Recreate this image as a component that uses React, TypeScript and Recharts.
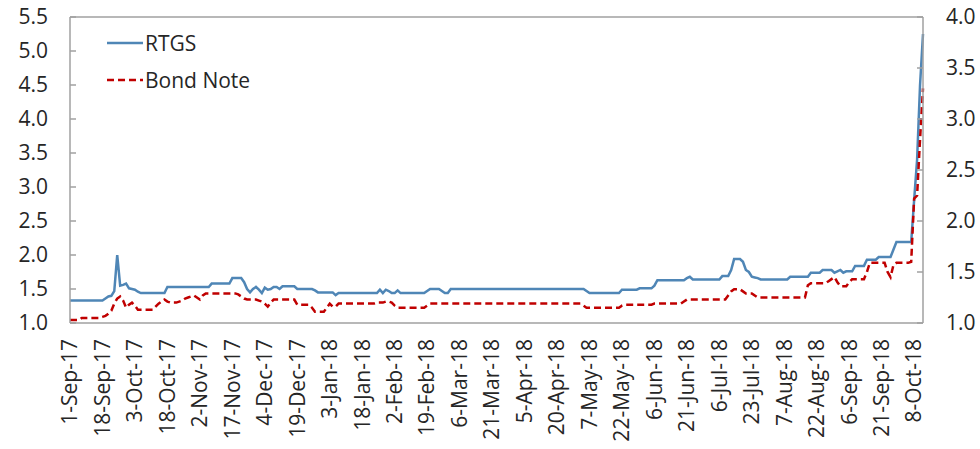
import { LineChart, Line, XAxis, YAxis, Legend, ReferenceLine } from 'recharts'

// weekday series, 1-Sep-17 onwards
const MONTHS = ['Jan', 'Feb', 'Mar', 'Apr', 'May', 'Jun', 'Jul', 'Aug', 'Sep', 'Oct', 'Nov', 'Dec']
const START = Date.UTC(2017, 8, 1)

// RTGS (left axis), one row per 11 weekdays
const rtgs = [
  1.33, 1.33, 1.33, 1.33, 1.33, 1.33, 1.33, 1.33, 1.33, 1.33, 1.33,
  1.33, 1.36, 1.39, 1.4, 1.47, 2.0, 1.55, 1.56, 1.58, 1.51, 1.5,
  1.49, 1.46, 1.44, 1.44, 1.44, 1.44, 1.44, 1.44, 1.44, 1.44, 1.44,
  1.53, 1.53, 1.53, 1.53, 1.53, 1.53, 1.53, 1.53, 1.53, 1.53, 1.53,
  1.53, 1.53, 1.53, 1.53, 1.58, 1.58, 1.58, 1.58, 1.58, 1.58, 1.58,
  1.66, 1.66, 1.66, 1.66, 1.6, 1.5, 1.45, 1.5, 1.53, 1.49, 1.44,
  1.52, 1.49, 1.5, 1.53, 1.53, 1.5, 1.54, 1.54, 1.54, 1.54, 1.54,
  1.5, 1.5, 1.5, 1.5, 1.5, 1.5, 1.48, 1.45, 1.45, 1.45, 1.45,
  1.45, 1.45, 1.41, 1.44, 1.44, 1.44, 1.44, 1.44, 1.44, 1.44, 1.44,
  1.44, 1.44, 1.44, 1.44, 1.44, 1.44, 1.49, 1.44, 1.49, 1.47, 1.44,
  1.44, 1.48, 1.44, 1.44, 1.44, 1.44, 1.44, 1.44, 1.44, 1.44, 1.44,
  1.47, 1.5, 1.5, 1.5, 1.5, 1.47, 1.44, 1.44, 1.5, 1.5, 1.5,
  1.5, 1.5, 1.5, 1.5, 1.5, 1.5, 1.5, 1.5, 1.5, 1.5, 1.5,
  1.5, 1.5, 1.5, 1.5, 1.5, 1.5, 1.5, 1.5, 1.5, 1.5, 1.5,
  1.5, 1.5, 1.5, 1.5, 1.5, 1.5, 1.5, 1.5, 1.5, 1.5, 1.5,
  1.5, 1.5, 1.5, 1.5, 1.5, 1.5, 1.5, 1.5, 1.5, 1.5, 1.47,
  1.44, 1.44, 1.44, 1.44, 1.44, 1.44, 1.44, 1.44, 1.44, 1.44, 1.44,
  1.49, 1.49, 1.49, 1.49, 1.49, 1.49, 1.51, 1.51, 1.51, 1.51, 1.51,
  1.55, 1.63, 1.63, 1.63, 1.63, 1.63, 1.63, 1.63, 1.63, 1.63, 1.63,
  1.66, 1.68, 1.64, 1.64, 1.64, 1.64, 1.64, 1.64, 1.64, 1.64, 1.64,
  1.64, 1.69, 1.69, 1.69, 1.78, 1.94, 1.94, 1.94, 1.9, 1.78, 1.75,
  1.68, 1.67, 1.66, 1.64, 1.64, 1.64, 1.64, 1.64, 1.64, 1.64, 1.64,
  1.64, 1.64, 1.68, 1.68, 1.68, 1.68, 1.68, 1.68, 1.68, 1.74, 1.74,
  1.74, 1.74, 1.78, 1.78, 1.78, 1.78, 1.74, 1.76, 1.78, 1.74, 1.76,
  1.76, 1.76, 1.84, 1.84, 1.84, 1.84, 1.93, 1.93, 1.93, 1.93, 1.97,
  1.97, 1.97, 1.97, 1.97, 2.08, 2.19, 2.19, 2.19, 2.19, 2.19, 2.19,
  2.81, 3.4, 4.5, 5.25,
]

// Bond Note (right axis)
const bondNote = [
  1.03, 1.03, 1.03, 1.03, 1.05, 1.05, 1.05, 1.05, 1.05, 1.05, 1.05,
  1.06, 1.07, 1.09, 1.12, 1.19, 1.24, 1.26, 1.22, 1.15, 1.18, 1.2,
  1.17, 1.13, 1.13, 1.13, 1.13, 1.13, 1.13, 1.16, 1.19, 1.21, 1.23,
  1.21, 1.2, 1.2, 1.2, 1.21, 1.22, 1.24, 1.25, 1.26, 1.27, 1.25,
  1.23, 1.27, 1.29, 1.29, 1.29, 1.29, 1.29, 1.29, 1.29, 1.29, 1.29,
  1.29, 1.29, 1.28, 1.26, 1.24, 1.23, 1.23, 1.23, 1.23, 1.22, 1.21,
  1.19, 1.16, 1.2, 1.23, 1.23, 1.23, 1.23, 1.23, 1.23, 1.23, 1.23,
  1.18, 1.18, 1.18, 1.18, 1.18, 1.15, 1.11, 1.11, 1.11, 1.11, 1.15,
  1.19, 1.16, 1.16, 1.19, 1.19, 1.19, 1.19, 1.19, 1.19, 1.19, 1.19,
  1.19, 1.19, 1.19, 1.19, 1.19, 1.2, 1.2, 1.2, 1.21, 1.21, 1.2,
  1.17, 1.15, 1.15, 1.15, 1.15, 1.15, 1.15, 1.15, 1.15, 1.15, 1.15,
  1.17, 1.19, 1.19, 1.19, 1.19, 1.19, 1.19, 1.19, 1.19, 1.19, 1.19,
  1.19, 1.19, 1.19, 1.19, 1.19, 1.19, 1.19, 1.19, 1.19, 1.19, 1.19,
  1.19, 1.19, 1.19, 1.19, 1.19, 1.19, 1.19, 1.19, 1.19, 1.19, 1.19,
  1.19, 1.19, 1.19, 1.19, 1.19, 1.19, 1.19, 1.19, 1.19, 1.19, 1.19,
  1.19, 1.19, 1.19, 1.19, 1.19, 1.19, 1.19, 1.19, 1.19, 1.17, 1.15,
  1.15, 1.15, 1.15, 1.15, 1.15, 1.15, 1.15, 1.15, 1.15, 1.15, 1.15,
  1.17, 1.18, 1.18, 1.18, 1.18, 1.18, 1.18, 1.18, 1.18, 1.18, 1.18,
  1.19, 1.19, 1.19, 1.19, 1.19, 1.19, 1.19, 1.19, 1.19, 1.19, 1.21,
  1.23, 1.23, 1.23, 1.23, 1.23, 1.23, 1.23, 1.23, 1.23, 1.23, 1.23,
  1.23, 1.23, 1.23, 1.27, 1.31, 1.33, 1.33, 1.33, 1.31, 1.29, 1.29,
  1.29, 1.27, 1.25, 1.25, 1.25, 1.25, 1.25, 1.25, 1.25, 1.25, 1.25,
  1.25, 1.25, 1.25, 1.25, 1.25, 1.25, 1.25, 1.25, 1.37, 1.39, 1.39,
  1.39, 1.39, 1.39, 1.39, 1.41, 1.43, 1.45, 1.4, 1.36, 1.36, 1.36,
  1.4, 1.43, 1.43, 1.43, 1.43, 1.43, 1.5, 1.59, 1.59, 1.59, 1.59,
  1.59, 1.59, 1.5, 1.45, 1.57, 1.59, 1.59, 1.59, 1.59, 1.59, 1.6,
  2.22, 2.25, 2.8, 3.3,
]

const leftTicks = [1.0, 1.5, 2.0, 2.5, 3.0, 3.5, 4.0, 4.5, 5.0, 5.5]
const rightTicks = [1.0, 1.5, 2.0, 2.5, 3.0, 3.5, 4.0]

function dateLabel(i: number) {
  // i-th weekday from the start
  const week = Math.floor((i + 4) / 5)
  const dow = (i + 4) % 5 // 0 = Mon
  const d = new Date(START + ((week - 1) * 7 + 3 + dow) * 86400000)
  return `${d.getUTCDate()}-${MONTHS[d.getUTCMonth()]}-${String(d.getUTCFullYear()).slice(2)}`
}

const data = rtgs.map((v, i) => ({ date: dateLabel(i), rtgs: v, bond: bondNote[i] }))

const FONT = '"Open Sans", "Noto Sans", sans-serif'
const FS = 21
const TEXT = '#262626'
const FRAME = '#a0a0a0'
const BLUE = '#4f86b6'
const RED = '#c00000'
const DASH = '7 4'

const LeftTick = ({ x, y, payload }: any) => (
  <g>
    <line x1={70} x2={76} y1={y} y2={y} stroke={FRAME} strokeWidth={1.5} />
    <text x={x} y={y} dy="0.35em" textAnchor="end" fill={TEXT} fontSize={FS} fontFamily={FONT}>
      {payload.value.toFixed(1)}
    </text>
  </g>
)

const RightTick = ({ x, y, payload }: any) => (
  <g>
    <line x1={917} x2={923} y1={y} y2={y} stroke={FRAME} strokeWidth={1.5} />
    <text x={x} y={y} dy="0.35em" textAnchor="start" fill={TEXT} fontSize={FS} fontFamily={FONT}>
      {payload.value.toFixed(1)}
    </text>
  </g>
)

const DateTick = ({ x, y, payload }: any) => (
  <text
    x={x}
    y={y}
    dy="0.35em"
    transform={`rotate(-90 ${x} ${y})`}
    textAnchor="end"
    fill={TEXT}
    fontSize={FS}
    fontFamily={FONT}
  >
    {payload.value}
  </text>
)

const LegendBox = () => (
  <div style={{ fontFamily: FONT, fontSize: FS, color: TEXT }}>
    {[
      { name: 'RTGS', color: BLUE, dash: undefined },
      { name: 'Bond Note', color: RED, dash: DASH },
    ].map((item) => (
      <div key={item.name} style={{ display: 'flex', alignItems: 'center', height: 37 }}>
        <svg width={36} height={10} style={{ marginRight: 2 }}>
          <line x1={0} x2={36} y1={5} y2={5} stroke={item.color} strokeWidth={2.5} strokeDasharray={item.dash} />
        </svg>
        <span>{item.name}</span>
      </div>
    ))}
  </div>
)

export default function App() {
  return (
    <div style={{ position: 'absolute', left: 0, top: 0, background: '#fff' }}>
      <LineChart width={980} height={449} data={data} margin={{ top: 17, right: 0, left: 0, bottom: 0 }}>
        <XAxis
          dataKey="date"
          interval={10}
          height={126}
          tickSize={0}
          tickMargin={16}
          tickLine={false}
          axisLine={{ stroke: FRAME, strokeWidth: 1.5 }}
          tick={<DateTick />}
        />
        <YAxis
          yAxisId="left"
          width={70}
          domain={[1, 5.5]}
          ticks={leftTicks}
          tickSize={0}
          tickMargin={22}
          tickLine={false}
          axisLine={{ stroke: FRAME, strokeWidth: 1.5 }}
          tick={<LeftTick />}
        />
        <YAxis
          yAxisId="right"
          orientation="right"
          width={57}
          domain={[1, 4]}
          ticks={rightTicks}
          tickSize={0}
          tickMargin={23}
          tickLine={false}
          axisLine={{ stroke: FRAME, strokeWidth: 1.5 }}
          tick={<RightTick />}
        />
        <ReferenceLine yAxisId="left" y={5.5} stroke={FRAME} strokeWidth={1.5} />
        <Legend
          content={<LegendBox />}
          layout="horizontal"
          verticalAlign="middle"
          align="center"
          wrapperStyle={{ left: 107, top: 24, width: 'auto', height: 'auto' }}
        />
        <Line
          yAxisId="left"
          type="linear"
          dataKey="rtgs"
          name="RTGS"
          stroke={BLUE}
          strokeWidth={2.5}
          dot={false}
          isAnimationActive={false}
        />
        <Line
          yAxisId="right"
          type="linear"
          dataKey="bond"
          name="Bond Note"
          stroke={RED}
          strokeWidth={2.5}
          strokeDasharray={DASH}
          dot={false}
          isAnimationActive={false}
        />
      </LineChart>
    </div>
  )
}
